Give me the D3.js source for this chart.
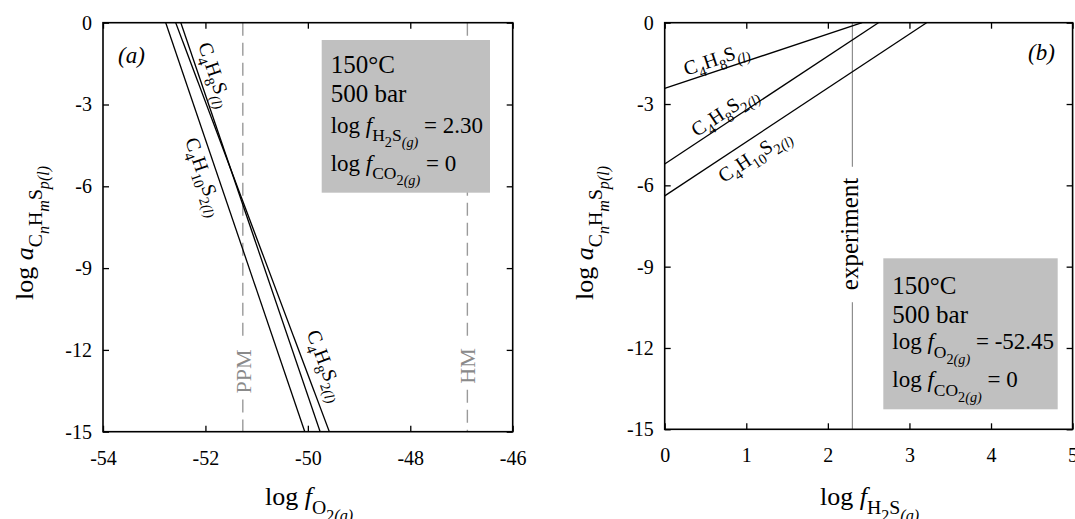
<!DOCTYPE html>
<html>
<head>
<meta charset="utf-8">
<script src="https://cdn.jsdelivr.net/npm/d3@7"></script>
<style>
  html, body { margin: 0; padding: 0; background: #fff; }
  svg { display: block; font-family: "Liberation Serif", "Times New Roman", serif; }
</style>
</head>
<body>
<svg id="chart" width="1075" height="519"></svg>
<script>
// ---------------- DATA ----------------
// Panel (a): log a vs log fO2 (endpoints)
const a_C4H8S   = [[-52.48, 0], [-49.76, -15]];
const a_C4H8S2  = [[-52.58, 0], [-49.58, -15]];
const a_C4H10S2 = [[-52.775, 0], [-50.06, -15]];
const a_markers = [{name: "PPM", x: -51.27}, {name: "HM", x: -46.885}];
const a_xTicks  = [-54, -52, -50, -48, -46];
const a_yTicks  = [0, -3, -6, -9, -12, -15];

// Panel (b): log a vs log fH2S
const b_C4H8S   = [[0, -2.42], [2.42, 0]];
const b_C4H8S2  = [[0, -5.21], [2.62, 0]];
const b_C4H10S2 = [[0, -6.39], [3.21, 0]];
const b_experiment = 2.30;
const b_xTicks  = [0, 1, 2, 3, 4, 5];
const b_yTicks  = [0, -3, -6, -9, -12, -15];

// ---------------- HELPERS ----------------
const svg = d3.select("#chart");
const fmt = d => String(d);

const PROF_TITLE = {sizes: [1, 0.76, 0.62], offs: [0, 0.36, 0.62]};
const PROF_CHEM  = {sizes: [1, 0.72, 0.6], offs: [0, 0.3, 0.5]};

function rich(textSel, segs, base, prof) {
  prof = prof || PROF_TITLE;
  let cur = 0;
  segs.forEach(([t, lvl, it]) => {
    const off = prof.offs[lvl] * base;
    textSel.append("tspan")
      .attr("dy", (off - cur).toFixed(2))
      .attr("font-size", (base * prof.sizes[lvl]).toFixed(2))
      .style("font-style", it ? "italic" : "normal")
      .text(t);
    cur = off;
  });
  return textSel;
}

function framePanel(g, x, y, xTicks, yTicks) {
  const [x0, x1] = x.range(), [y0, y1] = y.range();
  const ts = 6;
  g.append("g").attr("transform", `translate(0,${y0})`)
    .call(d3.axisBottom(x).tickValues(xTicks).tickFormat(fmt).tickSizeInner(-ts).tickSizeOuter(0).tickPadding(19))
    .call(s => s.select(".domain").remove());
  g.append("g").attr("transform", `translate(0,${y1})`)
    .call(d3.axisTop(x).tickValues(xTicks).tickFormat("").tickSizeInner(-ts).tickSizeOuter(0))
    .call(s => s.select(".domain").remove());
  g.append("g").attr("transform", `translate(${x0},0)`)
    .call(d3.axisLeft(y).tickValues(yTicks).tickFormat(fmt).tickSizeInner(-ts).tickSizeOuter(0).tickPadding(11))
    .call(s => s.select(".domain").remove());
  g.append("g").attr("transform", `translate(${x1},0)`)
    .call(d3.axisRight(y).tickValues(yTicks).tickFormat("").tickSizeInner(-ts).tickSizeOuter(0))
    .call(s => s.select(".domain").remove());
  g.selectAll("g").attr("font-family", "Liberation Serif");
  g.selectAll(".tick line").attr("stroke", "#000").attr("stroke-width", 1.3);
  g.selectAll(".tick text").attr("font-family", "Liberation Serif").attr("font-size", 20).attr("fill", "#000");
  g.append("rect").attr("x", x0).attr("y", y1).attr("width", x1 - x0).attr("height", y0 - y1)
    .attr("fill", "none").attr("stroke", "#000").attr("stroke-width", 1.6);
}

function lineLabel(g, x, y, pt, line, segs) {
  const p0 = [x(line[0][0]), y(line[0][1])], p1 = [x(line[1][0]), y(line[1][1])];
  const ang = Math.atan2(p1[1] - p0[1], p1[0] - p0[0]) * 180 / Math.PI;
  const t = g.append("text")
    .attr("transform", `translate(${x(pt[0])},${y(pt[1])}) rotate(${ang})`)
    .attr("text-anchor", "middle").attr("y", 5);
  rich(t, segs, 20, PROF_CHEM);
}

function infoBox(g, bx, by, bw, bh, lines) {
  g.append("rect").attr("x", bx).attr("y", by).attr("width", bw).attr("height", bh).attr("fill", "#c0c0c0");
  lines.forEach(l => {
    const t = g.append("text").attr("x", bx + 9).attr("y", by + l.dy);
    rich(t, l.segs, l.size, PROF_TITLE);
  });
}

const lineGen = (x, y) => d3.line().x(d => x(d[0])).y(d => y(d[1]));

// ---------------- PANEL (a) ----------------
const xa = d3.scaleLinear().domain([-54, -46]).range([103, 512.7]);
const ya = d3.scaleLinear().domain([-15, 0]).range([431.7, 22.7]);
const ga = svg.append("g");

ga.append("clipPath").attr("id", "clipA").append("rect")
  .attr("x", 103).attr("y", 22.7).attr("width", 409.7).attr("height", 409);

// dashed markers with a gap for their labels
a_markers.forEach(m => {
  const mx = xa(m.x);
  const cy = m.name === "PPM" ? 371.5 : 366;
  const lab = ga.append("text")
    .attr("transform", `translate(${mx + 8},${cy}) rotate(-90)`)
    .attr("text-anchor", "middle").attr("font-size", 22).attr("fill", "#8a8a8a").text(m.name);
  const len = lab.node().getComputedTextLength();
  [[ya(0), cy - len / 2 - 9], [cy + len / 2 + 6, ya(-15)]].forEach(([s, e]) => {
    ga.append("line").attr("x1", mx).attr("x2", mx).attr("y1", s).attr("y2", e)
      .attr("stroke", "#9a9a9a").attr("stroke-width", 1.4).attr("stroke-dasharray", "13,7");
  });
});

[a_C4H8S, a_C4H8S2, a_C4H10S2].forEach(L => {
  ga.append("path").attr("d", lineGen(xa, ya)(L)).attr("clip-path", "url(#clipA)")
    .attr("fill", "none").attr("stroke", "#000").attr("stroke-width", 1.3);
});

framePanel(ga, xa, ya, a_xTicks, a_yTicks);

lineLabel(ga, xa, ya, [-51.84, -1.92], a_C4H8S,
  [["C", 0], ["4", 1], ["H", 0], ["8", 1], ["S", 0], ["(l)", 1, true]]);
lineLabel(ga, xa, ya, [-52.05, -5.66], a_C4H10S2,
  [["C", 0], ["4", 1], ["H", 0], ["10", 1], ["S", 0], ["2", 1], ["(l)", 1, true]]);
lineLabel(ga, xa, ya, [-49.68, -12.59], a_C4H8S2,
  [["C", 0], ["4", 1], ["H", 0], ["8", 1], ["S", 0], ["2", 1], ["(l)", 1, true]]);

ga.append("text").attr("x", 118).attr("y", 63).attr("font-size", 23).style("font-style", "italic").text("(a)");

infoBox(ga, 321.7, 40, 168.3, 152.7, [
  {dy: 33, size: 25, segs: [["150°C", 0]]},
  {dy: 62, size: 25, segs: [["500 bar", 0]]},
  {dy: 93, size: 23, segs: [["log ", 0], ["f", 0, true], ["H", 1], ["2", 2], ["S", 1], ["(g)", 2, true], [" = 2.30", 0]]},
  {dy: 131, size: 23, segs: [["log ", 0], ["f", 0, true], ["CO", 1], ["2", 2], ["(g)", 2, true], [" = 0", 0]]}
]);

// axis titles (a)
rich(ga.append("text").attr("x", 265).attr("y", 505),
  [["log ", 0], ["f", 0, true], ["O", 1], ["2", 2], ["(g)", 2, true]], 26);
rich(ga.append("text").attr("transform", "translate(33,300) rotate(-90)"),
  [["log ", 0], ["a", 0, true], ["C", 1], ["n", 2, true], ["H", 1], ["m", 2, true], ["S", 1], ["p(l)", 2, true]], 26);

// ---------------- PANEL (b) ----------------
const xb = d3.scaleLinear().domain([0, 5]).range([664.7, 1072.6]);
const yb = d3.scaleLinear().domain([-15, 0]).range([429.3, 22.7]);
const gb = svg.append("g");

gb.append("clipPath").attr("id", "clipB").append("rect")
  .attr("x", 664.7).attr("y", 22.7).attr("width", 408).attr("height", 406.6);

// experiment line with its label
{
  const ex = xb(b_experiment);
  const cy = 234;
  const lab = gb.append("text")
    .attr("transform", `translate(${ex + 6},${cy}) rotate(-90)`)
    .attr("text-anchor", "middle").attr("font-size", 25).attr("fill", "#000").text("experiment");
  const len = lab.node().getComputedTextLength();
  [[yb(0), cy - len / 2 - 11], [cy + len / 2 + 12, yb(-15)]].forEach(([s, e]) => {
    gb.append("line").attr("x1", ex).attr("x2", ex).attr("y1", s).attr("y2", e)
      .attr("stroke", "#777").attr("stroke-width", 1);
  });
}

[b_C4H8S, b_C4H8S2, b_C4H10S2].forEach(L => {
  gb.append("path").attr("d", lineGen(xb, yb)(L)).attr("clip-path", "url(#clipB)")
    .attr("fill", "none").attr("stroke", "#000").attr("stroke-width", 1.3);
});

infoBox(gb, 883.3, 258.3, 174.4, 151, [
  {dy: 36, size: 25, segs: [["150°C", 0]]},
  {dy: 65, size: 25, segs: [["500 bar", 0]]},
  {dy: 91, size: 23, segs: [["log ", 0], ["f", 0, true], ["O", 1], ["2", 2], ["(g)", 2, true], [" = -52.45", 0]]},
  {dy: 129, size: 23, segs: [["log ", 0], ["f", 0, true], ["CO", 1], ["2", 2], ["(g)", 2, true], [" = 0", 0]]}
]);

framePanel(gb, xb, yb, b_xTicks, b_yTicks);

lineLabel(gb, xb, yb, [0.635, -1.39], b_C4H8S,
  [["C", 0], ["4", 1], ["H", 0], ["8", 1], ["S", 0], ["(l)", 1, true]]);
lineLabel(gb, xb, yb, [0.739, -3.32], b_C4H8S2,
  [["C", 0], ["4", 1], ["H", 0], ["8", 1], ["S", 0], ["2", 1], ["(l)", 1, true]]);
lineLabel(gb, xb, yb, [1.107, -4.94], b_C4H10S2,
  [["C", 0], ["4", 1], ["H", 0], ["10", 1], ["S", 0], ["2", 1], ["(l)", 1, true]]);

gb.append("text").attr("x", 1028).attr("y", 60).attr("font-size", 23).style("font-style", "italic").text("(b)");

rich(gb.append("text").attr("x", 820).attr("y", 505),
  [["log ", 0], ["f", 0, true], ["H", 1], ["2", 2], ["S", 1], ["(g)", 2, true]], 26);
rich(gb.append("text").attr("transform", "translate(593,300) rotate(-90)"),
  [["log ", 0], ["a", 0, true], ["C", 1], ["n", 2, true], ["H", 1], ["m", 2, true], ["S", 1], ["p(l)", 2, true]], 26);
</script>
</body>
</html>
